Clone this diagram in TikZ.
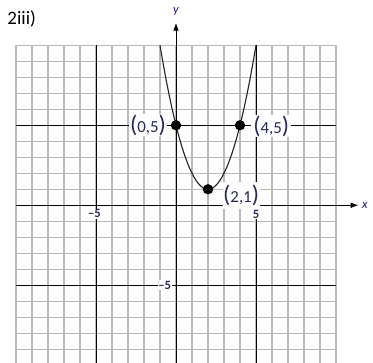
\documentclass[tikz,border=0pt]{standalone}
\usepackage{fontspec}
\setmainfont{Carlito}
\usetikzlibrary{arrows.meta}
\definecolor{labtxt}{RGB}{40,40,90}
\tikzset{
  gridminor/.style={draw=gray!55, line width=1.1pt},
  major/.style={draw=black, line width=0.6pt},
  axis/.style={draw=black, line width=0.6pt, -{Latex[length=5.5pt,width=4pt]}},
  ptlabel/.style={fill=white, inner sep=0.5pt, text=labtxt, font=\fontsize{12}{13}\selectfont},
  ticklab/.style={fill=white, inner sep=0.6pt, text=labtxt, font=\bfseries\fontsize{9}{10}\selectfont},
  axlab/.style={inner sep=0pt, text=labtxt!70!blue, font=\itshape\fontsize{9}{10}\selectfont},
  ptdot/.style={circle, fill=black, inner sep=0pt, minimum size=0.26cm},
  curve/.style={draw=black!85, line width=0.8pt}
}
\newcommand{\bigp}[1]{{\fontsize{17}{17}\selectfont #1}}
\begin{document}
\begin{tikzpicture}[x=0.4cm,y=0.4cm]
\useasboundingbox[fill=white] (-11,-9.856) rectangle (12.3125,12.83);
\clip (-11,-9.856) rectangle (12.3125,12.83);
% minor grid
\foreach \i in {-10,...,10} {
  \draw[gridminor] (\i,-10.5) -- (\i,10);
  \draw[gridminor] (-10,\i) -- (10,\i);
}
% major lines
\draw[major] (-5,-10.5) -- (-5,10);
\draw[major] (5,-10.5) -- (5,10);
\draw[major] (-10,5) -- (10,5);
\draw[major] (-10,-5) -- (10,-5);
% axes
\coordinate (xs) at (-10,0);
\coordinate (xe) at (11.4,0);
\coordinate (ys) at (0,-10.5);
\coordinate (ye) at (0,11.4);
\draw[axis] (xs) -- (xe);
\draw[axis] (ys) -- (ye);
\node[axlab] (xl) at (11.8,0) {x};
\node[axlab] (yl) at (0,12.1) {y};
% parabola
\draw[curve, domain=-1:5, samples=80, smooth] plot (\x,{(\x-2)^2+1});
% labels
\node[ptlabel] (l05) at (-1.75,5) {\bigp{(}0,5\bigp{)}};
\node[ptlabel, inner xsep=1.5pt] (l45) at (5.95,4.95) {\bigp{(}4,5\bigp{)}};
\node[ptlabel, inner ysep=2pt] (l21) at (4.07,0.62) {\bigp{(}2,1\bigp{)}};
\node[ticklab] (tm5x) at (-5.1,-0.52) {–5};
\node[ticklab] (t5x) at (5.0,-0.55) {5};
\node[ticklab] (tm5y) at (-0.7,-5) {–5};
% points
\node[ptdot] (p05) at (0,5) {};
\node[ptdot] (p45) at (4,5) {};
\node[ptdot] (p21) at (2,1) {};
% title
\node[anchor=west, inner sep=0pt, font=\fontsize{13.5}{14}\selectfont] (title) at (-10.55,11.65) {2iii)};
\end{tikzpicture}
\end{document}
